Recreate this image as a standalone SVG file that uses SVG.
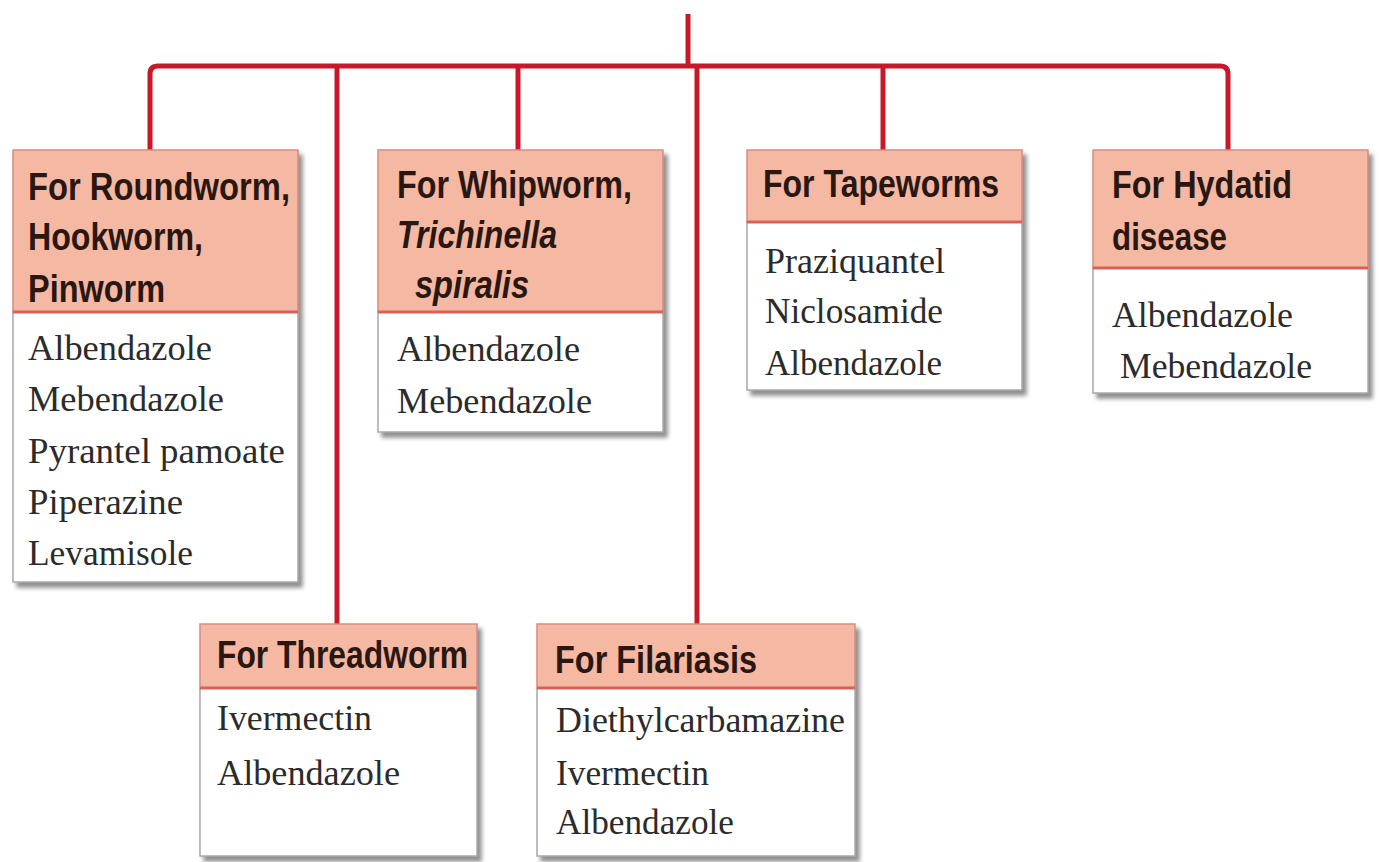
<svg xmlns="http://www.w3.org/2000/svg" width="1382" height="862" viewBox="0 0 1382 862">
<defs>
<filter id="sh" x="-10%" y="-10%" width="125%" height="125%">
<feDropShadow dx="4" dy="5" stdDeviation="2" flood-color="#6b6b6b" flood-opacity="0.75"/>
</filter>
<style>
.body{fill:#ffffff;stroke:#a8a8a8;stroke-width:1.5}
.head{fill:#f5b8a2;stroke:#d98a80;stroke-width:1.5}
.hline{stroke:#d8605a;stroke-width:3}
.ht{font-family:"Liberation Sans",Arial,sans-serif;font-weight:bold;font-size:39px;fill:#2a1712}
.hi{font-style:italic}
.bt{font-family:"Liberation Serif","Times New Roman",serif;font-size:36px;fill:#2b2b2b}
.con{fill:none;stroke:#c8192b;stroke-width:5;stroke-linejoin:round}
</style>
</defs>
<rect width="1382" height="862" fill="#ffffff"/>
<g id="connectors">
<path class="con" d="M688 14 V66"/>
<path class="con" d="M150 150 V74 Q150 66 158 66 H1220 Q1228 66 1228 74 V150"/>
<path class="con" d="M337 66 V624"/>
<path class="con" d="M518 66 V150"/>
<path class="con" d="M697 66 V624"/>
<path class="con" d="M883 66 V150"/>
</g>
<g id="node-roundworm">
<g filter="url(#sh)">
<rect class="body" x="13" y="312" width="285" height="270"/>
<rect class="head" x="13" y="150" width="285" height="162"/>
</g>
<line class="hline" x1="13" y1="312" x2="298" y2="312"/>
<text class="ht" x="28" y="200" textLength="262" lengthAdjust="spacingAndGlyphs">For Roundworm,</text>
<text class="ht" x="28" y="250" textLength="175" lengthAdjust="spacingAndGlyphs">Hookworm,</text>
<text class="ht" x="28" y="302" textLength="137" lengthAdjust="spacingAndGlyphs">Pinworm</text>
<text class="bt" x="28" y="360" textLength="184" lengthAdjust="spacingAndGlyphs">Albendazole</text>
<text class="bt" x="28" y="411" textLength="196" lengthAdjust="spacingAndGlyphs">Mebendazole</text>
<text class="bt" x="28" y="463" textLength="257" lengthAdjust="spacingAndGlyphs">Pyrantel pamoate</text>
<text class="bt" x="28" y="514" textLength="155" lengthAdjust="spacingAndGlyphs">Piperazine</text>
<text class="bt" x="28" y="565" textLength="165" lengthAdjust="spacingAndGlyphs">Levamisole</text>
</g>
<g id="node-whipworm">
<g filter="url(#sh)">
<rect class="body" x="378" y="312" width="285" height="120"/>
<rect class="head" x="378" y="150" width="285" height="162"/>
</g>
<line class="hline" x1="378" y1="312" x2="663" y2="312"/>
<text class="ht" x="397" y="198" textLength="235" lengthAdjust="spacingAndGlyphs">For Whipworm,</text>
<text class="ht hi" x="397" y="248" textLength="160" lengthAdjust="spacingAndGlyphs">Trichinella</text>
<text class="ht hi" x="415" y="298" textLength="114" lengthAdjust="spacingAndGlyphs">spiralis</text>
<text class="bt" x="397" y="361" textLength="183" lengthAdjust="spacingAndGlyphs">Albendazole</text>
<text class="bt" x="397" y="413" textLength="195" lengthAdjust="spacingAndGlyphs">Mebendazole</text>
</g>
<g id="node-tapeworms">
<g filter="url(#sh)">
<rect class="body" x="747" y="222" width="275" height="168"/>
<rect class="head" x="747" y="150" width="275" height="72"/>
</g>
<line class="hline" x1="747" y1="222" x2="1022" y2="222"/>
<text class="ht" x="763" y="197" textLength="236" lengthAdjust="spacingAndGlyphs">For Tapeworms</text>
<text class="bt" x="765" y="273" textLength="180" lengthAdjust="spacingAndGlyphs">Praziquantel</text>
<text class="bt" x="765" y="323" textLength="178" lengthAdjust="spacingAndGlyphs">Niclosamide</text>
<text class="bt" x="765" y="375" textLength="177" lengthAdjust="spacingAndGlyphs">Albendazole</text>
</g>
<g id="node-hydatid">
<g filter="url(#sh)">
<rect class="body" x="1093" y="268" width="275" height="125"/>
<rect class="head" x="1093" y="150" width="275" height="118"/>
</g>
<line class="hline" x1="1093" y1="268" x2="1368" y2="268"/>
<text class="ht" x="1112" y="198" textLength="180" lengthAdjust="spacingAndGlyphs">For Hydatid</text>
<text class="ht" x="1112" y="250" textLength="115" lengthAdjust="spacingAndGlyphs">disease</text>
<text class="bt" x="1112" y="327" textLength="181" lengthAdjust="spacingAndGlyphs">Albendazole</text>
<text class="bt" x="1120" y="378" textLength="192" lengthAdjust="spacingAndGlyphs">Mebendazole</text>
</g>
<g id="node-threadworm">
<g filter="url(#sh)">
<rect class="body" x="200" y="688" width="277" height="168"/>
<rect class="head" x="200" y="624" width="277" height="64"/>
</g>
<line class="hline" x1="200" y1="688" x2="477" y2="688"/>
<text class="ht" x="217" y="668" textLength="251" lengthAdjust="spacingAndGlyphs">For Threadworm</text>
<text class="bt" x="217" y="730" textLength="155" lengthAdjust="spacingAndGlyphs">Ivermectin</text>
<text class="bt" x="217" y="785" textLength="183" lengthAdjust="spacingAndGlyphs">Albendazole</text>
</g>
<g id="node-filariasis">
<g filter="url(#sh)">
<rect class="body" x="537" y="688" width="318" height="168"/>
<rect class="head" x="537" y="624" width="318" height="64"/>
</g>
<line class="hline" x1="537" y1="688" x2="855" y2="688"/>
<text class="ht" x="555" y="673" textLength="202" lengthAdjust="spacingAndGlyphs">For Filariasis</text>
<text class="bt" x="556" y="732" textLength="289" lengthAdjust="spacingAndGlyphs">Diethylcarbamazine</text>
<text class="bt" x="556" y="785" textLength="153" lengthAdjust="spacingAndGlyphs">Ivermectin</text>
<text class="bt" x="556" y="834" textLength="178" lengthAdjust="spacingAndGlyphs">Albendazole</text>
</g>
</svg>
